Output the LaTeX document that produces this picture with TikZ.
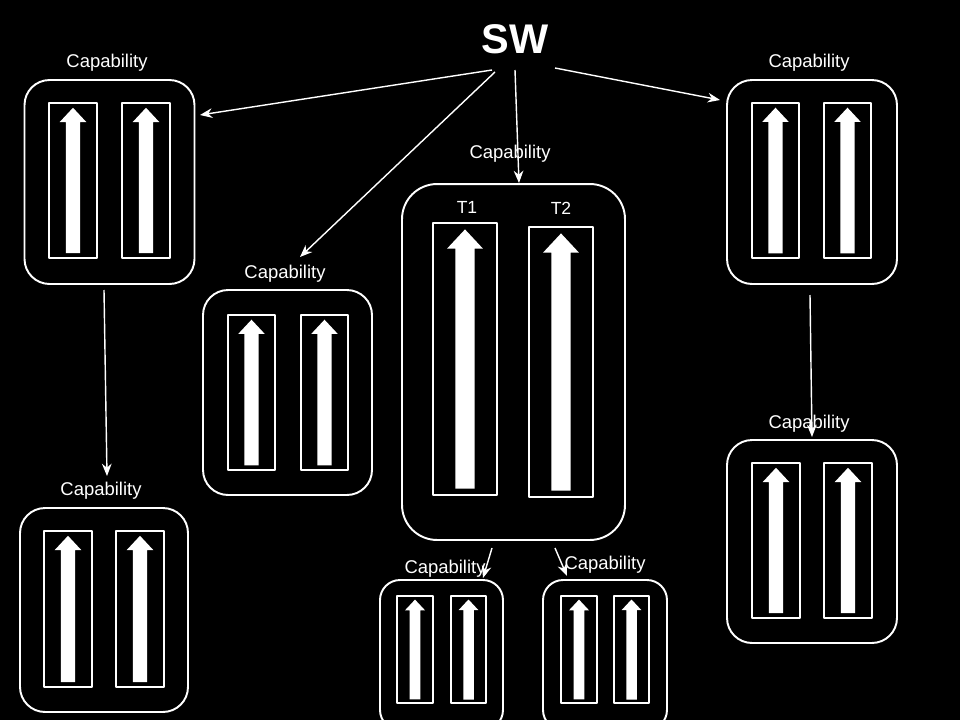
\documentclass[tikz,border=0pt]{standalone}
\usepackage{fontspec}
\setmainfont{Liberation Sans}
\usetikzlibrary{arrows.meta}
\tikzset{
	capbox/.style={draw=white,line width=1.1pt,inner sep=0pt,outer sep=0pt},
	lanebox/.style={draw=white,line width=0.8pt},
	caplabel/.style={text=white,inner sep=0pt,font=\fontsize{10.5}{12}\selectfont},
	wire/.style={draw=white,line width=0.8pt,-{Stealth[length=7pt,width=5.5pt]}}
}
% one lane: frame (x1,y1)-(x2,y2) with an up arrow
\newcommand{\lane}[4]{%
	\draw[lanebox] (#1,#2) rectangle (#3,#4);
	\pgfmathsetmacro\lw{#3-#1}\pgfmathsetmacro\lm{(#1+#3)/2}
	\fill[white] (\lm-0.15*\lw,#4-0.1*\lw)--(\lm-0.15*\lw,#2+0.4*\lw)--(\lm-0.28*\lw,#2+0.4*\lw)
		--(\lm,#2+0.1*\lw)--(\lm+0.28*\lw,#2+0.4*\lw)--(\lm+0.15*\lw,#2+0.4*\lw)--(\lm+0.15*\lw,#4-0.1*\lw)--cycle;
}
\begin{document}
\begin{tikzpicture}[x=0.02cm,y=-0.02cm,line join=round]
		\fill[black] (0,0) rectangle (960,720);
		\useasboundingbox (0,0) rectangle (960,720);
		\clip (0,0) rectangle (960,720);
		\node[text=white,font=\bfseries\fontsize{23.6}{26}\selectfont] (SW) at (515,39) {SW};
		% capability boxes
		\node[capbox,rounded corners=0.5cm,minimum width=3.4cm,minimum height=4.08cm] (c1) at (109.5,182) {};
		\node[capbox,rounded corners=0.5cm,minimum width=3.38cm,minimum height=4.1cm] (c2) at (287.5,392.5) {};
		\node[capbox,rounded corners=0.7cm,minimum width=4.46cm,minimum height=7.12cm] (c3) at (513.5,362) {};
		\node[capbox,rounded corners=0.5cm,minimum width=3.4cm,minimum height=4.08cm] (c4) at (812,182) {};
		\node[capbox,rounded corners=0.5cm,minimum width=3.4cm,minimum height=4.06cm] (c5) at (812,541.5) {};
		\node[capbox,rounded corners=0.5cm,minimum width=3.36cm,minimum height=4.08cm] (c6) at (104,610) {};
		\node[capbox,rounded corners=0.4cm,minimum width=2.46cm,minimum height=3cm] (c7) at (441.5,655) {};
		\node[capbox,rounded corners=0.4cm,minimum width=2.48cm,minimum height=3cm] (c8) at (605,655) {};
		% labels
		\node[caplabel] (l1) at (107,63) {Capability};
		\node[caplabel] (l2) at (285,274) {Capability};
		\node[caplabel] (l3) at (510,154) {Capability};
		\node[caplabel] (l4) at (809,63) {Capability};
		\node[caplabel] (l5) at (809,424) {Capability};
		\node[caplabel] (l6) at (101,491) {Capability};
		\node[caplabel] (l7) at (445,569) {Capability};
		\node[caplabel] (l8) at (605,565) {Capability};
		\node[caplabel,font=\fontsize{10}{12}\selectfont] (t1) at (467,207) {T1};
		\node[caplabel,font=\fontsize{10}{12}\selectfont] (t2) at (561,208) {T2};
		% lanes
		\lane{49}{103}{97}{258}\lane{122}{103}{170}{258}
		\lane{228}{315}{275}{470}\lane{301}{315}{348}{470}
		\lane{433}{223}{497}{495}\lane{529}{227}{593}{497}
		\lane{752}{103}{799}{258}\lane{824}{103}{871}{258}
		\lane{752}{463}{800}{618}\lane{824}{463}{872}{618}
		\lane{44}{531}{92}{687}\lane{116}{531}{164}{687}
		\lane{397}{596}{433}{703}\lane{451}{596}{486}{703}
		\lane{561}{596}{597}{703}\lane{614}{596}{649}{703}
		% connectors
		\coordinate (s1) at (492,70); \coordinate (e1) at (200,115);
		\coordinate (s2) at (495,72); \coordinate (e2) at (300,257);
		\coordinate (s3) at (515,70); \coordinate (e3) at (519,183);
		\coordinate (s4) at (555,68); \coordinate (e4) at (720,100);
		\coordinate (s5) at (104,290); \coordinate (e5) at (107,476);
		\coordinate (s6) at (810,295); \coordinate (e6) at (812,437);
		\coordinate (s7) at (492,548); \coordinate (e7) at (483,578);
		\coordinate (s8) at (555,548); \coordinate (e8) at (567,576);
		\foreach \i in {1,...,8}
			\draw[wire] (s\i)--(e\i);
		\end{tikzpicture}
\end{document}
